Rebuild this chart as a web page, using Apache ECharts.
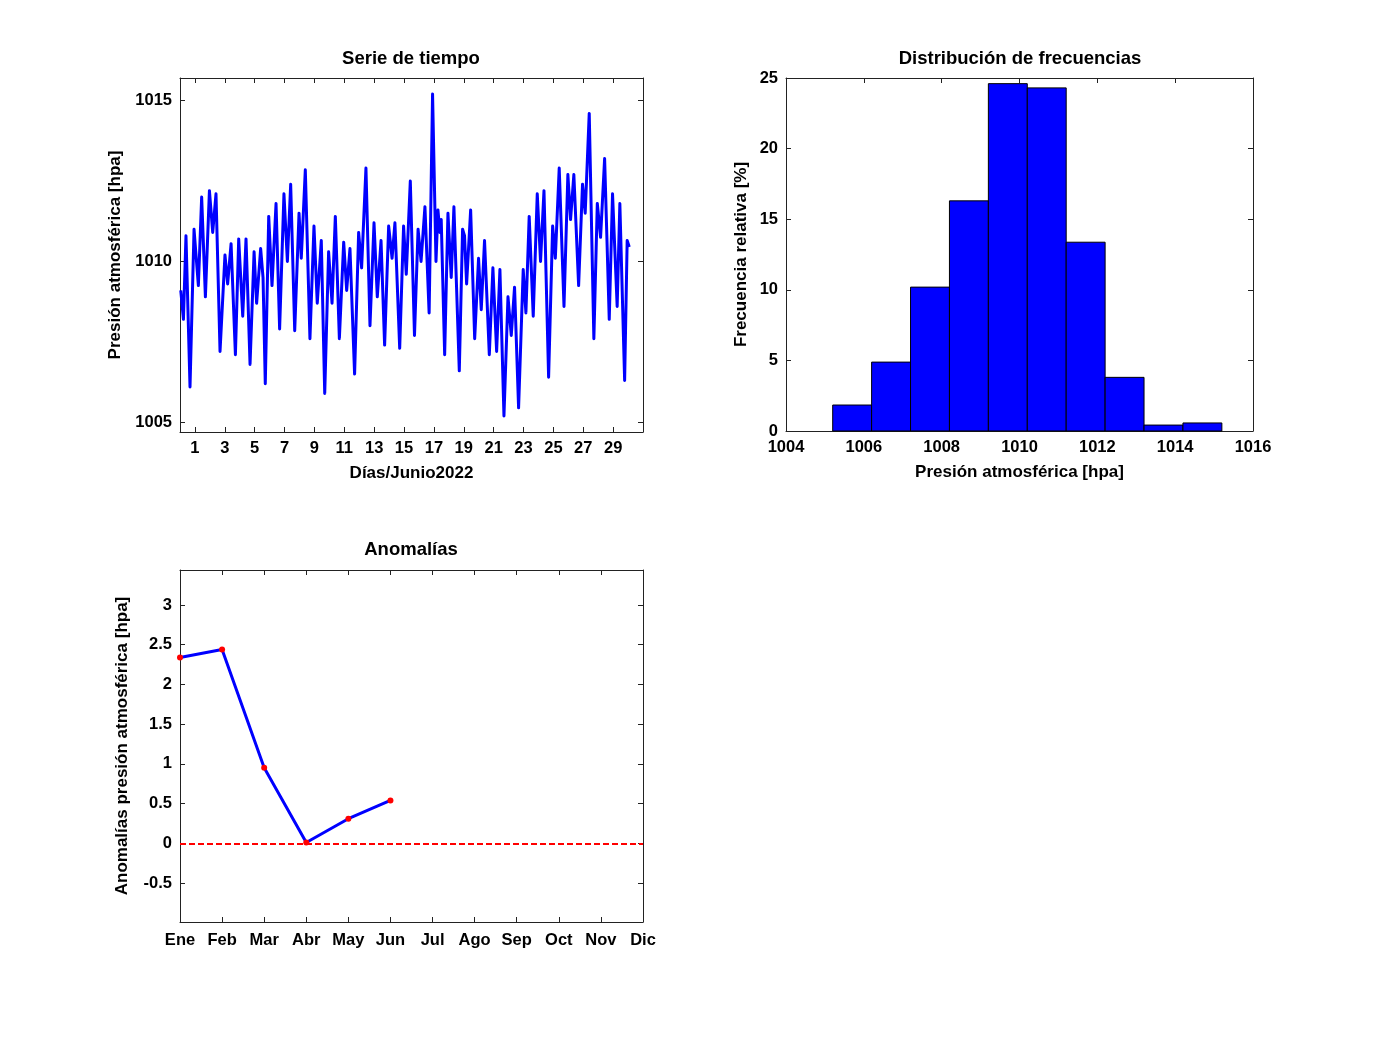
<!DOCTYPE html>
<html>
<head>
<meta charset="utf-8">
<title>Presión atmosférica Junio 2022</title>
<script src="https://cdn.jsdelivr.net/npm/echarts@6.0.0/dist/echarts.min.js"></script>
<style>
  html, body { margin: 0; padding: 0; background: #fff; }
  #chart { width: 1384px; height: 1037px; }
</style>
</head>
<body>
<div id="chart"></div>
<script>
// Serie de tiempo (día del mes, presión en hpa)
var dias = [
  0.05, 0.23, 0.40, 0.67, 0.94, 1.23, 1.45, 1.70, 1.97, 2.19, 2.41, 2.68, 3.01, 3.19, 3.42, 3.71,
  3.93, 4.20, 4.42, 4.69, 4.96, 5.13, 5.40, 5.56, 5.71, 5.94, 6.16, 6.43, 6.67, 6.96, 7.19, 7.41,
  7.68, 7.97, 8.12, 8.39, 8.70, 8.97, 9.19, 9.46, 9.69, 9.95, 10.18, 10.40, 10.67, 10.96, 11.16,
  11.38, 11.69, 11.96, 12.16, 12.45, 12.72, 12.99, 13.21, 13.46, 13.70, 13.97, 14.20, 14.39, 14.71,
  14.97, 15.15, 15.42, 15.70, 15.94, 16.14, 16.40, 16.68, 16.91, 17.14, 17.27, 17.40, 17.49, 17.72,
  17.94, 18.16, 18.34, 18.70, 18.92, 19.05, 19.19, 19.46, 19.73, 19.99, 20.17, 20.39, 20.71, 20.95,
  21.20, 21.42, 21.69, 21.96, 22.18, 22.40, 22.67, 22.98, 23.16, 23.38, 23.65, 23.92, 24.14, 24.37,
  24.68, 24.95, 25.13, 25.39, 25.71, 25.97, 26.15, 26.37, 26.69, 26.95, 27.13, 27.40, 27.71, 27.94,
  28.16, 28.43, 28.74, 28.96, 29.27, 29.45, 29.77, 29.94, 30.08
];
var presion = [
  1009.1, 1008.2, 1010.8, 1006.1, 1011.0, 1009.25, 1012.0, 1008.9, 1012.2, 1010.9, 1012.1, 1007.2, 1010.2, 1009.3, 1010.55, 1007.1,
  1010.7, 1008.3, 1010.7, 1006.8, 1010.3, 1008.7, 1010.4, 1009.5, 1006.2, 1011.4, 1009.25, 1011.8, 1007.9, 1012.1, 1010.0, 1012.4,
  1007.85, 1011.5, 1010.1, 1012.85, 1007.6, 1011.1, 1008.7, 1010.65, 1005.9, 1010.3, 1008.7, 1011.4, 1007.6, 1010.6, 1009.1,
  1010.4, 1006.5, 1010.9, 1009.8, 1012.9, 1008.0, 1011.2, 1008.9, 1010.65, 1007.4, 1011.1, 1010.1, 1011.2, 1007.3,
  1011.1, 1009.6, 1012.5, 1007.7, 1011.0, 1010.0, 1011.7, 1008.4, 1015.2, 1010.0, 1011.6, 1010.9, 1011.3, 1007.1,
  1011.5, 1009.5, 1011.7, 1006.6, 1011.0, 1010.8, 1009.3, 1011.6, 1007.6, 1010.1, 1008.5, 1010.65, 1007.1, 1009.8,
  1007.2, 1009.75, 1005.2, 1008.9, 1007.7, 1009.2, 1005.45, 1009.75, 1008.4, 1011.4, 1008.3, 1012.1, 1010.0, 1012.2,
  1006.4, 1011.1, 1010.1, 1012.9, 1008.6, 1012.7, 1011.3, 1012.7, 1009.25, 1012.4, 1011.5, 1014.6, 1007.6, 1011.8,
  1010.75, 1013.2, 1008.2, 1012.1, 1008.6, 1011.8, 1006.3, 1010.65, 1010.45
];
var ticksDias = [1, 3, 5, 7, 9, 11, 13, 15, 17, 19, 21, 23, 25, 27, 29];
var ticksPresion = [1005, 1010, 1015];

// Distribución de frecuencias (centro de clase, frecuencia relativa %)
var centrosClase = [1005.7, 1006.7, 1007.7, 1008.7, 1009.7, 1010.7, 1011.7, 1012.7, 1013.7, 1014.7];
var frecuencias = [1.84, 4.88, 10.19, 16.3, 24.6, 24.3, 13.37, 3.8, 0.42, 0.57];
var anchoClase = 1.0;

// Anomalías mensuales
var meses = ['Ene', 'Feb', 'Mar', 'Abr', 'May', 'Jun', 'Jul', 'Ago', 'Sep', 'Oct', 'Nov', 'Dic'];
var anomalias = [2.34, 2.44, 0.95, 0.01, 0.31, 0.54];
var ticksAnomalias = [-0.5, 0, 0.5, 1, 1.5, 2, 2.5, 3];

var fuente = 'Liberation Sans, Arial, sans-serif';
var etiqueta = { color: '#000', fontFamily: fuente, fontWeight: 'bold', fontSize: 16.5 };
var nombre = { color: '#000', fontFamily: fuente, fontWeight: 'bold', fontSize: 17 };
var lineaEje = { show: true, onZero: false, lineStyle: { color: '#222', width: 1 } };
var marca = { show: true, inside: true, length: 5, lineStyle: { color: '#222' } };
var sinComas = function (v) { return String(v); };

function ejeEspejo(base, position, gridIndex) {
  // eje sin etiquetas para dibujar las marcas del lado opuesto de la caja
  return Object.assign({}, base, {
    position: position,
    gridIndex: gridIndex,
    name: '',
    axisLabel: { show: false },
    axisTick: Object.assign({}, base.axisTick)
  });
}

var chart = echarts.init(document.getElementById('chart'));

var xSerie = {
  type: 'value', gridIndex: 0, min: 0, max: 31,
  name: 'Días/Junio2022', nameLocation: 'middle', nameGap: 33, nameTextStyle: nombre,
  axisLine: lineaEje, splitLine: { show: false },
  axisTick: Object.assign({}, marca, { customValues: ticksDias }),
  axisLabel: Object.assign({}, etiqueta, { margin: 8, customValues: ticksDias, formatter: sinComas })
};
var ySerie = {
  type: 'value', gridIndex: 0, min: 1004.7, max: 1015.7,
  name: 'Presión atmosférica [hpa]', nameLocation: 'middle', nameGap: 56, nameRotate: 90, nameTextStyle: nombre,
  axisLine: lineaEje, splitLine: { show: false },
  axisTick: Object.assign({}, marca, { customValues: ticksPresion }),
  axisLabel: Object.assign({}, etiqueta, { margin: 8, customValues: ticksPresion, formatter: sinComas })
};
var xHist = {
  type: 'value', gridIndex: 1, min: 1004, max: 1016, interval: 2,
  name: 'Presión atmosférica [hpa]', nameLocation: 'middle', nameGap: 33, nameTextStyle: nombre,
  axisLine: lineaEje, splitLine: { show: false }, axisTick: marca,
  axisLabel: Object.assign({}, etiqueta, { margin: 8, formatter: sinComas })
};
var yHist = {
  type: 'value', gridIndex: 1, min: 0, max: 25, interval: 5,
  name: 'Frecuencia relativa [%]', nameLocation: 'middle', nameGap: 36, nameRotate: 90, nameTextStyle: nombre,
  axisLine: lineaEje, splitLine: { show: false }, axisTick: marca,
  axisLabel: Object.assign({}, etiqueta, { margin: 8, formatter: sinComas })
};
var xAnom = {
  type: 'category', gridIndex: 2, data: meses, boundaryGap: false,
  axisLine: lineaEje, splitLine: { show: false }, axisTick: marca,
  axisLabel: Object.assign({}, etiqueta, { margin: 10 })
};
var yAnom = {
  type: 'value', gridIndex: 2, min: -0.99, max: 3.44,
  name: 'Anomalías presión atmosférica [hpa]', nameLocation: 'middle', nameGap: 49, nameRotate: 90, nameTextStyle: nombre,
  axisLine: lineaEje, splitLine: { show: false },
  axisTick: Object.assign({}, marca, { customValues: ticksAnomalias }),
  axisLabel: Object.assign({}, etiqueta, { margin: 8, customValues: ticksAnomalias, formatter: sinComas })
};

var titulo = { color: '#000', fontFamily: fuente, fontWeight: 'bold', fontSize: 18.5 };

chart.setOption({
  backgroundColor: '#fff',
  animation: false,
  title: [
    { text: 'Serie de tiempo', left: 411, top: 49, textAlign: 'center', padding: 0, textStyle: titulo },
    { text: 'Distribución de frecuencias', left: 1020, top: 49, textAlign: 'center', padding: 0, textStyle: titulo },
    { text: 'Anomalías', left: 411, top: 540, textAlign: 'center', padding: 0, textStyle: titulo }
  ],
  grid: [
    { left: 180, top: 78, width: 463, height: 354, outerBoundsMode: 'none' },
    { left: 786, top: 78, width: 467, height: 353, outerBoundsMode: 'none' },
    { left: 180, top: 570, width: 463, height: 352, outerBoundsMode: 'none' }
  ],
  xAxis: [
    xSerie, ejeEspejo(xSerie, 'top', 0),
    xHist, ejeEspejo(xHist, 'top', 1),
    xAnom, ejeEspejo(xAnom, 'top', 2)
  ],
  yAxis: [
    ySerie, ejeEspejo(ySerie, 'right', 0),
    yHist, ejeEspejo(yHist, 'right', 1),
    yAnom, ejeEspejo(yAnom, 'right', 2)
  ],
  series: [
    {
      name: 'Presión', type: 'line', xAxisIndex: 0, yAxisIndex: 0,
      showSymbol: false, smooth: false,
      data: dias.map(function (d, i) { return [d, presion[i]]; }),
      lineStyle: { color: '#0000ff', width: 3, join: 'round' },
      itemStyle: { color: '#0000ff' }
    },
    {
      name: 'Frecuencia', type: 'custom', xAxisIndex: 2, yAxisIndex: 2,
      encode: { x: 0, y: 1 },
      data: centrosClase.map(function (c, i) { return [c, frecuencias[i]]; }),
      renderItem: function (params, api) {
        var c = api.value(0);
        var p0 = api.coord([c - anchoClase / 2, api.value(1)]);
        var p1 = api.coord([c + anchoClase / 2, 0]);
        return {
          type: 'rect',
          shape: { x: p0[0], y: p0[1], width: p1[0] - p0[0], height: p1[1] - p0[1] },
          style: { fill: '#0000ff', stroke: '#000', lineWidth: 1 }
        };
      }
    },
    {
      name: 'Anomalías', type: 'line', xAxisIndex: 4, yAxisIndex: 4,
      data: anomalias,
      symbol: 'circle', symbolSize: 6,
      lineStyle: { color: '#0000ff', width: 3 },
      itemStyle: { color: '#ff0000' },
      z: 3,
      markLine: {
        silent: true, symbol: 'none', label: { show: false },
        lineStyle: { color: '#ff0000', width: 2, type: [6, 3] },
        data: [{ yAxis: 0 }]
      }
    }
  ]
});
</script>
</body>
</html>
